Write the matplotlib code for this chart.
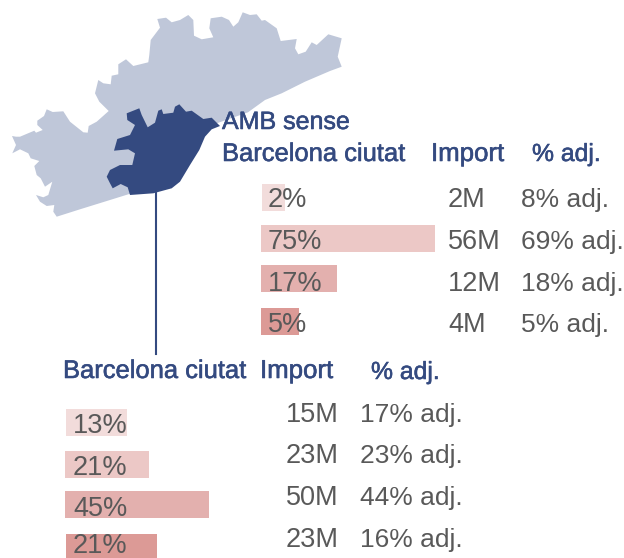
import matplotlib
matplotlib.use('Agg')
import matplotlib.pyplot as plt
import matplotlib.patheffects as pe

plt.rcParams['font.family'] = ['Liberation Sans', 'DejaVu Sans']

# outlines of the map in pixels
region_x = [12, 16, 20, 34.3, 36, 42.7, 37.3, 37.3, 44, 46.7, 52.7, 63.3, 70, 83.3, 87.7, 88.7, 96.7, 108.7, 99.3, 95, 98.3, 103.3, 110.7, 111.7, 118.3, 118.3, 126, 133.3, 148.3, 149.3, 150.7, 160, 157.3, 166, 171.7, 180, 188.3, 193.3, 194, 201.7, 213.3, 209.3, 210.7, 221.7, 229, 233.3, 238.3, 242.7, 250, 256.7, 261.7, 265, 276.7, 280.7, 296.7, 295, 298.3, 305.7, 311.7, 316.7, 328.3, 341.7, 337.7, 341.7, 330, 305, 281.7, 265, 248, 212, 170, 129.3, 110, 80, 56.7, 53.3, 54.3, 46.7, 40, 36, 43.3, 48.3, 52.3, 45, 40.7, 36.7, 34.3, 39.3, 30.7, 28.3, 20, 12.3, 16]
region_y = [136, 136.7, 136.7, 130.7, 132.7, 130, 125, 120.7, 116, 109.3, 112, 111.3, 121.7, 132.3, 132.7, 126, 121.7, 111, 101.7, 93.3, 80, 83.3, 84.3, 75.7, 74.3, 64.3, 59.3, 66, 62.3, 55, 40, 27.7, 19, 17.7, 22.3, 20, 15, 20, 35.7, 39.3, 37.3, 28.3, 18.3, 16.7, 20, 26.7, 22.3, 12.3, 15, 14.3, 20.7, 20, 28.3, 41, 39, 48.3, 54.3, 51.7, 42.3, 45, 34.3, 38.3, 56.7, 66.7, 71, 81.7, 93.3, 100, 112.3, 125, 180, 194, 200, 209.3, 216.7, 211.7, 205, 206, 201.7, 195, 197.3, 195, 181.7, 186.7, 178.3, 175, 166, 161, 158.3, 153.3, 149.3, 153.3, 145]
amb_x = [126.7, 139.3, 141.7, 147.7, 155, 158.3, 161.7, 163.3, 173.3, 175, 179.3, 186, 191.7, 203.3, 211.7, 220, 211.7, 205, 199.3, 190, 180, 171.7, 153.3, 130, 127.7, 120.7, 112.7, 110, 106.7, 110, 120, 132.3, 135, 128.3, 114, 117.3, 130, 135, 127.3]
amb_y = [113.3, 108.3, 115, 127.3, 122.7, 110.7, 109.3, 114, 112.7, 106.7, 104.3, 111.7, 110.7, 119, 117.7, 126, 129.3, 136.7, 150, 165, 181.7, 188.3, 193.3, 195, 187.3, 184, 188.3, 183.3, 176.7, 170, 165, 165, 153.3, 149.3, 150.7, 139, 135, 125, 120]

# upper table
amb_pct = ['2%', '75%', '17%', '5%']
amb_bars = [23, 174, 76, 38]
amb_import = ['2M', '56M', '12M', '4M']
amb_adj = ['8% adj.', '69% adj.', '18% adj.', '5% adj.']

# lower table
bcn_pct = ['13%', '21%', '45%', '21%']
bcn_bars = [61, 84, 144, 91]
bcn_import = ['15M', '23M', '50M', '23M']
bcn_adj = ['17% adj.', '23% adj.', '44% adj.', '16% adj.']

bar_colors = ['#F2DCDB', '#ECC8C6', '#E3B0AE', '#DC9A96']
navy = '#344A80'
light = '#BFC7D9'
grey = '#595959'

fig = plt.figure(figsize=(6.24, 5.58), dpi=100)
ax = fig.add_axes([0, 0, 1, 1])
ax.set_xlim(0, 624)
ax.set_ylim(558, 0)
ax.axis('off')

ax.fill(region_x, region_y, color=light, lw=0)
ax.fill(amb_x, amb_y, color=navy, lw=0)
ax.plot([155.5, 155.5], [192, 354], color=navy, lw=1.5)


def header(x, y, s, size=18):
    t = ax.text(x, y, s, color=navy, fontsize=size)
    t.set_path_effects([pe.withStroke(linewidth=0.4, foreground=navy)])


header(222, 129, 'AMB sense')
header(222, 161, 'Barcelona ciutat', 18.4)
header(431, 161, 'Import', 18.6)
header(532, 161, '% adj.', 17.8)
header(63, 378, 'Barcelona ciutat', 18.4)
header(260, 378, 'Import', 18.6)
header(371, 379, '% adj.', 17.8)

# upper rows
amb_bar_y = [197.5, 238.5, 278.5, 321.5]
amb_base = [207, 249, 291, 332]
ax.barh(amb_bar_y, amb_bars, height=27, left=[262, 261, 261, 261], color=bar_colors)
for i in range(4):
    ax.text(268, amb_base[i], amb_pct[i], color=grey, fontsize=19.5)
    ax.text(448, amb_base[i], amb_import[i], color=grey, fontsize=19.5)
    ax.text(521, amb_base[i], amb_adj[i], color=grey, fontsize=19)

# lower rows
bcn_bar_y = [422.5, 464.5, 504.5, 547.5]
bcn_base = [433, 475, 516, 553]
bcn_base2 = [422, 463, 505, 547]
ax.barh(bcn_bar_y, bcn_bars, height=27, left=[66, 65, 65, 66], color=bar_colors)
for i in range(4):
    ax.text(73, bcn_base[i], bcn_pct[i], color=grey, fontsize=19.5)
    ax.text(286, bcn_base2[i], bcn_import[i], color=grey, fontsize=19.5)
    ax.text(360, bcn_base2[i], bcn_adj[i], color=grey, fontsize=19)

fig.savefig('out.png', dpi=100)
